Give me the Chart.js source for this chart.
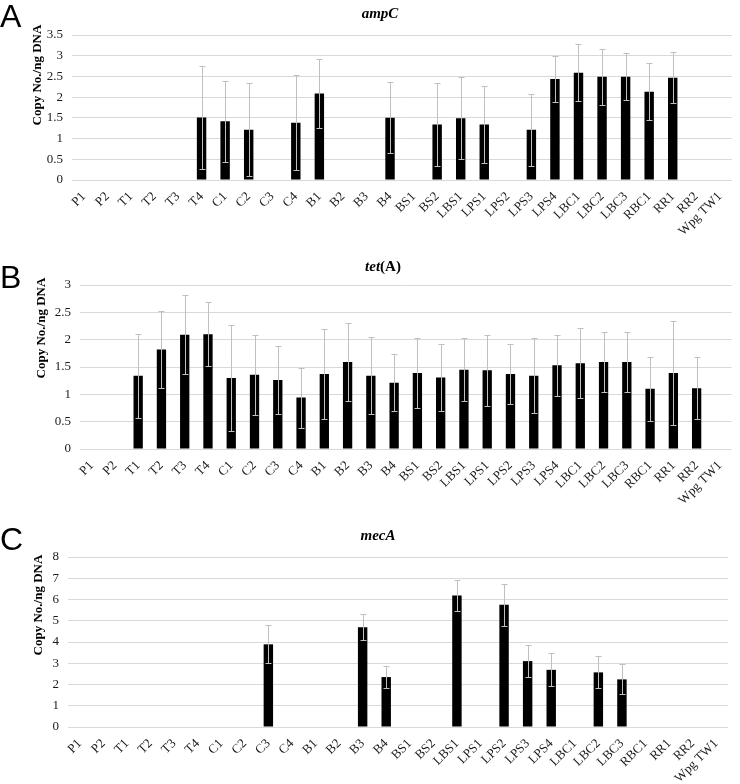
<!DOCTYPE html>
<html>
<head>
<meta charset="utf-8">
<script src="https://cdn.jsdelivr.net/npm/chart.js@4.4.1/dist/chart.umd.min.js"></script>
<style>
  body { margin: 0; background: #fff; }
  #wrap { position: relative; width: 740px; height: 784px; overflow: hidden; }
  canvas { position: absolute; left: 0; }
  .letter { position: absolute; font-family: "Liberation Sans", Arial, sans-serif; font-size: 32px; color: #000; line-height: 1; }
  .title { position: absolute; font-family: "Liberation Serif", "Times New Roman", serif; font-weight: bold; font-size: 15px; color: #000; transform: translate(-50%, -50%); white-space: nowrap; }
  .ytitle { position: absolute; font-family: "Liberation Serif", "Times New Roman", serif; font-weight: bold; font-size: 13px; color: #000; white-space: nowrap; transform: translate(-50%, -50%) rotate(-90deg); }
</style>
</head>
<body>
<div id="wrap">
  <canvas id="chartA" width="740" height="255" style="top:0px"></canvas>
  <canvas id="chartB" width="740" height="265" style="top:255px"></canvas>
  <canvas id="chartC" width="740" height="264" style="top:520px"></canvas>

  <div class="letter" style="left:0px; top:0px">A</div>
  <div class="letter" style="left:0px; top:261px">B</div>
  <div class="letter" style="left:0px; top:523px">C</div>

  <div class="title" style="left:380px; top:13px"><i>ampC</i></div>
  <div class="title" style="left:383px; top:266px"><i>tet</i>(A)</div>
  <div class="title" style="left:378px; top:535px"><i>mecA</i></div>

  <div class="ytitle" style="left:37px; top:75px">Copy No./ng DNA</div>
  <div class="ytitle" style="left:41px; top:328px">Copy No./ng DNA</div>
  <div class="ytitle" style="left:38px; top:605px">Copy No./ng DNA</div>
</div>
<script>
const categories = ['P1', 'P2', 'T1', 'T2', 'T3', 'T4', 'C1', 'C2', 'C3', 'C4', 'B1', 'B2', 'B3', 'B4',
  'BS1', 'BS2', 'LBS1', 'LPS1', 'LPS2', 'LPS3', 'LPS4', 'LBC1', 'LBC2', 'LBC3', 'RBC1', 'RR1', 'RR2', 'Wpg TW1'];

const ampC    = [0, 0, 0, 0, 0, 1.51, 1.42, 1.21, 0, 1.38, 2.09, 0, 0, 1.50,
  0, 1.34, 1.49, 1.34, 0, 1.21, 2.44, 2.59, 2.49, 2.49, 2.13, 2.47, 0, 0];
const ampCErr = [0, 0, 0, 0, 0, 1.25, 0.98, 1.12, 0, 1.15, 0.84, 0, 0, 0.86,
  0, 1.00, 0.99, 0.94, 0, 0.87, 0.56, 0.69, 0.67, 0.57, 0.69, 0.61, 0, 0];

const tetA    = [0, 0, 1.34, 1.82, 2.09, 2.10, 1.30, 1.36, 1.26, 0.94, 1.37, 1.59, 1.34, 1.21,
  1.39, 1.31, 1.45, 1.44, 1.37, 1.34, 1.53, 1.57, 1.59, 1.59, 1.10, 1.39, 1.11, 0];
const tetAErr = [0, 0, 0.77, 0.70, 0.72, 0.58, 0.97, 0.73, 0.62, 0.55, 0.82, 0.71, 0.70, 0.52,
  0.64, 0.61, 0.58, 0.65, 0.55, 0.69, 0.56, 0.64, 0.55, 0.55, 0.59, 0.95, 0.57, 0];

const mecA    = [0, 0, 0, 0, 0, 0, 0, 0, 3.89, 0, 0, 0, 4.70, 2.35,
  0, 0, 6.19, 0, 5.75, 3.10, 2.69, 0, 2.57, 2.24, 0, 0, 0, 0];
const mecAErr = [0, 0, 0, 0, 0, 0, 0, 0, 0.90, 0, 0, 0, 0.61, 0.53,
  0, 0, 0.73, 0, 0.99, 0.74, 0.78, 0, 0.75, 0.71, 0, 0, 0, 0];

const SERIF = '"Liberation Serif", "Times New Roman", serif';

// draws the +/- whiskers on top of the bars
const errorBars = {
  id: 'errorBars',
  afterDatasetsDraw(chart, args, opts) {
    const ctx = chart.ctx;
    const y = chart.scales.y;
    const meta = chart.getDatasetMeta(0);
    const vals = chart.data.datasets[0].data;
    ctx.save();
    ctx.strokeStyle = '#bfbfbf';
    ctx.lineWidth = 1;
    meta.data.forEach(function(bar, i) {
      const e = opts.err[i];
      if (!e) return;
      const x = Math.round(bar.x) + 0.5;
      const top = Math.round(y.getPixelForValue(vals[i] + e)) + 0.5;
      const bot = Math.round(y.getPixelForValue(Math.max(0, vals[i] - e))) + 0.5;
      ctx.beginPath();
      ctx.moveTo(x, top); ctx.lineTo(x, bot);
      ctx.moveTo(x - 3, top); ctx.lineTo(x + 3, top);
      ctx.moveTo(x - 3, bot); ctx.lineTo(x + 3, bot);
      ctx.stroke();
    });
    ctx.restore();
  }
};

function makePanel(id, values, errs, box, yMax, step) {
  const canvasH = box.canvasH;
  new Chart(document.getElementById(id), {
    type: 'bar',
    data: {
      labels: categories,
      datasets: [{
        data: values,
        backgroundColor: '#000000',
        borderWidth: 0,
        categoryPercentage: 1.0,
        barPercentage: 0.4
      }]
    },
    options: {
      responsive: false,
      animation: false,
      layout: {
        padding: { top: box.top, right: 740 - box.right, left: 0, bottom: 0 }
      },
      plugins: {
        legend: { display: false },
        tooltip: { enabled: false },
        errorBars: { err: errs }
      },
      scales: {
        x: {
          grid: { display: false, drawTicks: false },
          border: { display: false },
          ticks: {
            autoSkip: false,
            maxRotation: 45,
            minRotation: 45,
            padding: 9,
            color: '#1a1a1a',
            font: { family: SERIF, size: 13 }
          },
          afterFit: function(scale) { scale.height = canvasH - box.bottom; }
        },
        y: {
          min: 0,
          max: yMax,
          grid: { color: '#d9d9d9', drawTicks: false },
          border: { display: false },
          ticks: {
            stepSize: step,
            padding: 9,
            color: '#1a1a1a',
            font: { family: SERIF, size: 13 },
            callback: function(v) { return String(Math.round(v * 10) / 10); }
          },
          afterFit: function(scale) { scale.width = box.left; }
        }
      }
    },
    plugins: [errorBars]
  });
}

// chart-area edges in canvas coordinates
makePanel('chartA', ampC, ampCErr, { top: 35, bottom: 180, left: 72, right: 733, canvasH: 255 }, 3.5, 0.5);
makePanel('chartB', tetA, tetAErr, { top: 30, bottom: 194, left: 80, right: 736, canvasH: 265 }, 3, 0.5);
makePanel('chartC', mecA, mecAErr, { top: 37, bottom: 207, left: 68, right: 728, canvasH: 264 }, 8, 1);
</script>
</body>
</html>
